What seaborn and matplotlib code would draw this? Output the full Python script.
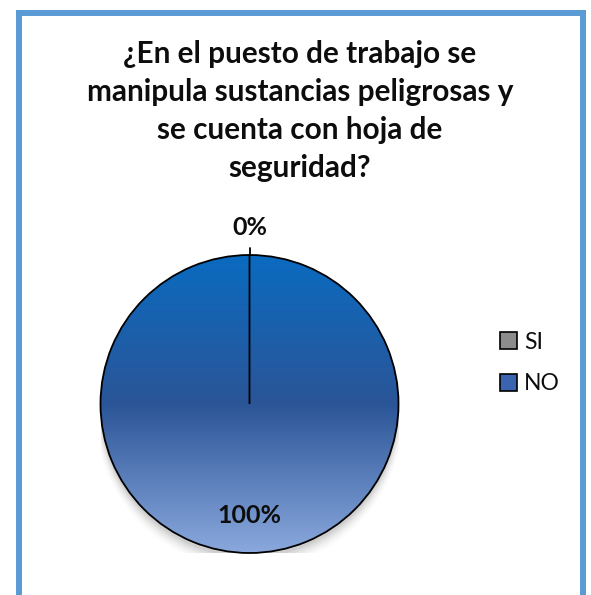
import numpy as np
import matplotlib
matplotlib.use("Agg")
import matplotlib.pyplot as plt
from matplotlib.colors import LinearSegmentedColormap
from matplotlib.patches import Patch
import seaborn as sns

categories = ["SI", "NO"]
values = [0, 100]
title_lines = ["¿En el puesto de trabajo se", "manipula sustancias peligrosas y",
               "se cuenta con hoja de", "seguridad?"]

sns.set_theme(style="white")
plt.rcParams['font.family'] = ['Lato', 'DejaVu Sans']

W, H = 591, 595
fig = plt.figure(figsize=(W / 100, H / 100), dpi=100)
fig.patch.set_facecolor("white")

# frame
border = "#5b9bd5"
kw = dict(color=border, lw=4.3, transform=fig.transFigure, solid_capstyle="projecting")
fig.add_artist(plt.Line2D([19 / W, 19 / W], [-0.01, 1 - 13 / H], **kw))
fig.add_artist(plt.Line2D([19 / W, 582.5 / W], [1 - 13 / H, 1 - 13 / H], **kw))
fig.add_artist(plt.Line2D([582.5 / W, 582.5 / W], [-0.01, 1 - 13 / H], **kw))

# title: one text per line, size fitted so the longest line is ~426 px wide
baselines = [63, 101, 139, 177]
tx = []
for line, yb in zip(title_lines, baselines):
    tx.append(fig.text(300 / W, 1 - yb / H, line, ha="center", va="baseline", fontsize=20,
                       fontweight="bold", color="#0d0d0d"))
fig.canvas.draw()
rend = fig.canvas.get_renderer()
wmax = max(t.get_window_extent(rend).width for t in tx)
fs = 20 * 426 / wmax
for t in tx:
    t.set_fontsize(fs)

cx, cy, r = 249.5, 404, 149
ax = fig.add_axes([(cx - r) / W, (H - cy - r) / H, 2 * r / W, 2 * r / H])
ax.axis("off")

# soft shadow
for i, a in enumerate(np.linspace(0.05, 0.012, 6)):
    sh = plt.Circle((0.0, -0.03 - 0.01 * i), 1.0 + 0.006 * i, color="black", alpha=a, lw=0, zorder=0)
    ax.add_patch(sh)

wedges, texts, autotexts = ax.pie(values, startangle=90, counterclock=False,
                                  colors=["#8c8c8c", "#2c5696"], radius=1.0,
                                  autopct=lambda p: f"{p:.0f}%", pctdistance=0.80,
                                  wedgeprops=dict(edgecolor="black", linewidth=1.3),
                                  textprops=dict(fontsize=18, fontweight="bold", color="#0d0d0d"))
ax.set_xlim(-1, 1)
ax.set_ylim(-1, 1)

cmap = LinearSegmentedColormap.from_list("g", [(0, "#8aa8dd"), (0.5, "#2b5597"), (1, "#0a6bc0")])
grad = np.linspace(0, 1, 256).reshape(-1, 1)
for w in wedges:
    if abs(w.theta2 - w.theta1) > 1:
        im = ax.imshow(grad, extent=[-1, 1, -1, 1], origin="lower", cmap=cmap, aspect="auto", zorder=1)
        im.set_clip_path(w)
        w.set_facecolor("none")
        w.set_zorder(2)
    else:
        w.set_zorder(3)

for t, v in zip(autotexts, values):
    t.set_zorder(5)
    t.set_va("baseline")
    if v == 0:
        t.set_position((0, (cy - 235) / r))
ax.plot([0, 0], [1.0, 1.045], color="black", lw=1.3, zorder=4, clip_on=False)

handles = [Patch(facecolor="#8c8c8c", edgecolor="black", lw=1.2),
           Patch(facecolor="#3a64b0", edgecolor="black", lw=1.2)]
leg = fig.legend(handles, categories, loc="center left", bbox_to_anchor=(482 / W, 1 - 363 / H),
                 frameon=False, fontsize=16.5, handlelength=0.74, handleheight=0.74,
                 handletextpad=0.3, labelspacing=0.9, borderpad=0.3)
for txt in leg.get_texts():
    txt.set_color("#0d0d0d")

fig.savefig("out.png", dpi=100)
